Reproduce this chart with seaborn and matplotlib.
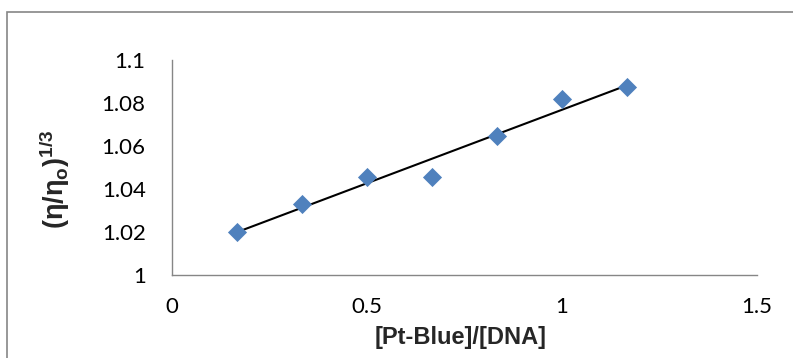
import matplotlib
matplotlib.use("Agg")
import matplotlib.pyplot as plt
import seaborn as sns
import pandas as pd
from matplotlib.patches import Rectangle

ratio = [0.167, 0.333, 0.5, 0.667, 0.833, 1.0, 1.167]
visc = [1.0202, 1.0330, 1.0457, 1.0457, 1.0645, 1.0819, 1.0876]
x_ticks = [0, 0.5, 1, 1.5]
y_ticks = [1.0, 1.02, 1.04, 1.06, 1.08, 1.1]
y_tick_labels = ["1", "1.02", "1.04", "1.06", "1.08", "1.1"]
x_tick_labels = ["0", "0.5", "1", "1.5"]

df = pd.DataFrame({"ratio": ratio, "visc": visc})

sns.set_theme(style="white")
plt.rcParams["font.family"] = ["Lato", "DejaVu Sans"]
plt.rcParams["mathtext.fontset"] = "custom"
plt.rcParams["mathtext.rm"] = "Liberation Sans"
plt.rcParams["mathtext.bf"] = "Liberation Sans:bold"
plt.rcParams["mathtext.it"] = "Liberation Sans:italic"

W, H = 793, 358
fig = plt.figure(figsize=(W / 100, H / 100), dpi=100)
ax = fig.add_axes([172 / W, 1 - 275 / H, (757 - 172) / W, (275 - 60) / H])

sns.regplot(data=df, x="ratio", y="visc", scatter=False, ci=None, ax=ax,
            color="black", line_kws={"lw": 1.5})
sns.scatterplot(data=df, x="ratio", y="visc", ax=ax, marker="D", s=95,
                color="#4F81BD", edgecolor="#4F81BD", linewidth=0, zorder=3)

ax.set_xlim(0, 1.5)
ax.set_ylim(1.0, 1.1)
ax.set_xticks(x_ticks)
ax.set_xticklabels(x_tick_labels)
ax.set_yticks(y_ticks)
ax.set_yticklabels(y_tick_labels)
ax.tick_params(axis="both", length=0, labelsize=16, colors="black")
ax.tick_params(axis="x", pad=16)
ax.tick_params(axis="y", pad=19)
for s in ["top", "right"]:
    ax.spines[s].set_visible(False)
for s in ["left", "bottom"]:
    ax.spines[s].set_color("#868686")
    ax.spines[s].set_linewidth(1.0)

label_font = ["Liberation Sans", "DejaVu Sans"]
ax.set_xlabel("[Pt-Blue]/[DNA]", fontsize=17, fontweight="bold", family=label_font)
ax.xaxis.set_label_coords((461 - 172) / 585, (275 - 326) / 215)
ax.set_ylabel(r"(η/η$_\mathbf{o}$)$^\mathbf{1/3}$", fontsize=19.5, fontweight="bold",
              family=label_font)
ax.yaxis.set_label_coords((72 - 172) / 585, (275 - 179) / 215)

fig.patches.append(Rectangle((7 / W, -0.1), 1.2, 1 - 12 / H + 0.1,
                             transform=fig.transFigure, fill=False,
                             edgecolor="#868686", linewidth=1.2))

fig.savefig("out.png", dpi=100)
